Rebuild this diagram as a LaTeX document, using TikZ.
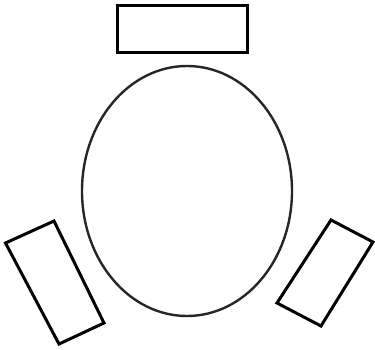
\documentclass[tikz,border=0pt]{standalone}
\begin{document}
\begin{tikzpicture}[x=1pt,y=-1pt,
  seat/.style={draw=black,line width=3pt,line join=miter},
  tablebody/.style={draw=black!85,line width=2.4pt}]
\useasboundingbox (0,0) rectangle (375,350);
\draw[seat] (117,6) rectangle (247,53);
\draw[tablebody] (187,191) ellipse [x radius=105, y radius=125];
\draw[seat] (5.5,243) -- (54,221) -- (104,323) -- (59,344) -- cycle;
\draw[seat] (331,220) -- (373,242) -- (321,326) -- (277,303) -- cycle;
\end{tikzpicture}
\end{document}
